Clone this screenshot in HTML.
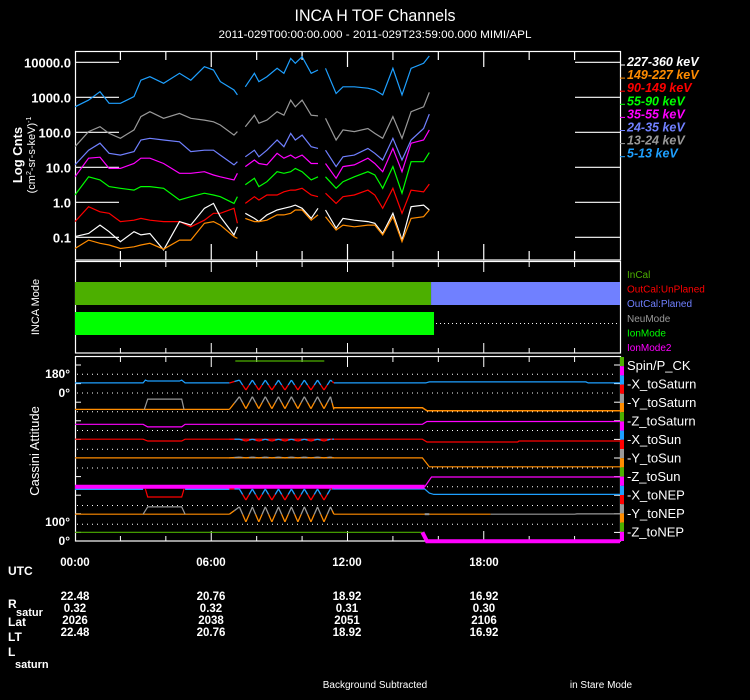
<!DOCTYPE html>
<html><head><meta charset="utf-8"><style>
html,body{margin:0;padding:0;background:#000;}
svg{display:block;font-family:"Liberation Sans",sans-serif;}
</style></head><body>
<svg id="chart" width="750" height="700" viewBox="0 0 750 700">
<rect x="0" y="0" width="750" height="700" fill="#000"/>
<text x="375" y="21" fill="#fff" font-size="17" text-anchor="middle" textLength="161" lengthAdjust="spacingAndGlyphs">INCA H TOF Channels</text>
<text x="375" y="38" fill="#fff" font-size="11" text-anchor="middle" textLength="313" lengthAdjust="spacingAndGlyphs">2011-029T00:00:00.000 - 2011-029T23:59:00.000 MIMI/APL</text>

<text transform="translate(22,155) rotate(-90)" fill="#fff" font-size="13" font-weight="bold" text-anchor="middle">Log Cnts</text>
<text transform="translate(35,155) rotate(-90)" fill="#fff" font-size="11" text-anchor="middle">(cm<tspan font-size="7" dy="-4">2</tspan><tspan dy="4">-sr-s-keV)</tspan><tspan font-size="7" dy="-4">-1</tspan></text>
<text transform="translate(39,307) rotate(-90)" fill="#fff" font-size="11" text-anchor="middle">INCA Mode</text>
<text transform="translate(39,451) rotate(-90)" fill="#fff" font-size="13" text-anchor="middle">Cassini Attitude</text>

<g id="topG"></g>
<g id="midG"></g>
<g id="botG"></g>

<g fill="#fff" font-size="12" font-weight="bold">
<text x="8" y="575">UTC</text>
<text x="8" y="608">R</text>
<text x="16" y="616" font-size="11">satur</text>
<text x="8" y="626">Lat</text>
<text x="8" y="641">LT</text>
<text x="8" y="656">L</text>
<text x="15" y="668" font-size="11">saturn</text>
</g>
<text x="375" y="688" fill="#fff" font-size="10" text-anchor="middle">Background Subtracted</text>
<text x="601" y="688" fill="#fff" font-size="10" text-anchor="middle">in Stare Mode</text>
</svg>
<script>
// ---- counts panel data (log10 counts) ----
const hours=[0,0.6,1.1,1.5,2,2.6,2.9,3.3,3.9,4.6,5.1,5.7,6.1,6.4,7.0,7.15,7.3,7.5,7.9,8.1,8.45,8.9,9.2,9.5,9.7,10.0,10.4,10.7,10.85,11.03,11.5,11.8,12.3,12.9,13.2,13.55,14.0,14.4,14.8,15.35,15.6];
const log227_360=[-0.98,-0.89,-0.65,-0.84,-1.125,-0.84,-0.93,-0.89,-1.36,-0.55,-0.65,-0.17,-0.03,-0.41,-0.93,-0.70,null,-0.315,-0.46,-0.55,-0.36,-0.22,-0.17,-0.125,-0.08,-0.17,-0.46,-0.17,null,-0.22,-0.74,-0.46,-0.51,-0.55,-0.60,-0.89,-0.315,-1.08,-0.125,-0.08,-0.22];
const log149_227=[-1.32,-1.08,-1.17,-1.22,-1.32,-1.27,-1.22,-1.17,-1.34,-1.08,-1.08,-0.60,-0.55,-0.65,-0.98,-1.03,null,-0.46,-0.55,-0.55,-0.51,-0.36,-0.36,-0.315,-0.22,-0.22,-0.51,-0.36,null,-0.41,-0.79,-0.65,-0.70,-0.65,-0.65,-0.93,-0.41,-1.125,-0.46,-0.41,-0.22];
const log90_149=[-0.55,-0.125,-0.27,-0.315,-0.55,-0.51,-0.46,-0.51,-0.55,-0.55,-0.70,-0.51,-0.315,-0.315,-0.17,-0.60,null,-0.03,0.16,0.065,0.21,0.21,0.30,0.35,0.35,0.40,0.21,0.16,null,0.26,-0.03,0.16,0.21,0.35,0.21,-0.17,0.40,-0.315,0.35,0.30,0.52];
const log55_90=[0.21,0.73,0.64,0.45,0.40,0.35,0.45,0.45,0.40,0.065,0.16,0.26,0.21,0.16,-0.03,0.16,null,0.50,0.685,0.45,0.59,0.875,0.83,0.875,0.97,0.875,0.64,0.73,null,0.73,0.40,0.59,0.73,0.875,0.78,0.40,1.02,0.26,1.16,1.16,1.42];
const log35_55=[0.73,1.26,1.29,0.97,0.97,1.11,1.26,1.26,1.11,0.83,0.83,0.875,0.78,0.73,0.64,0.83,null,1.02,1.21,1.11,1.07,1.40,1.26,1.35,1.26,1.35,1.11,1.11,null,1.11,0.685,1.02,1.07,1.26,1.11,0.875,1.54,0.875,1.69,1.78,2.07];
const log24_35=[1.07,1.49,1.69,1.40,1.35,1.45,1.78,1.83,1.78,1.73,1.45,1.49,1.49,1.35,1.07,1.16,null,1.30,1.49,1.30,1.49,1.78,1.59,1.97,1.78,1.92,1.59,1.54,null,1.49,1.02,1.30,1.35,1.54,1.40,1.21,1.83,1.21,1.78,2.11,2.52];
const log13_24=[1.59,2.02,2.16,1.97,1.83,2.07,2.45,2.59,2.40,2.54,2.40,2.35,2.30,2.21,1.92,2.02,null,2.16,2.49,2.26,2.35,2.59,2.49,2.92,2.73,2.92,2.49,2.47,null,2.40,1.78,2.07,2.02,2.11,1.97,1.83,2.45,1.83,2.59,2.73,3.14];
const log5_13=[2.73,2.92,3.16,2.83,2.83,3.02,3.49,3.59,3.40,3.685,3.49,3.875,3.78,3.45,3.21,3.07,null,3.30,3.685,3.45,3.59,3.83,3.685,4.11,3.97,4.16,3.685,3.78,null,3.83,3.11,3.30,3.30,3.26,3.21,3.07,3.83,3.07,3.83,3.97,4.18];
const channelNames=["227-360 keV","149-227 keV","90-149 keV","55-90 keV","35-55 keV","24-35 keV","13-24 keV","5-13 keV"];
const yTickLabels=["10000.0","1000.0","100.0","10.0","1.0","0.1"];
const yTickLogs=[4,3,2,1,0,-1];
const timeLabels=["00:00","06:00","12:00","18:00"];
const rSatur=["22.48","20.76","18.92","16.92"];
const latVals=["0.32","0.32","0.31","0.30"];
const ltVals=["2026","2038","2051","2106"];
const lSaturn=["22.48","20.76","18.92","16.92"];
// ---- mode panel data ----
const calStarts=[0,15.68];const calEnds=[15.68,24];const calNames=["InCal","OutCal:Planed"];
const ionStart=0,ionEnd=15.81;
const modeNames=["InCal","OutCal:UnPlaned","OutCal:Planed","NeuMode","IonMode","IonMode2"];
// ---- attitude data (hours, degrees) ----
const attNames=["Spin/P_CK","-X_toSaturn","-Y_toSaturn","-Z_toSaturn","-X_toSun","-Y_toSun","-Z_toSun","-X_toNEP","-Y_toNEP","-Z_toNEP"];
const wigglePeaks=[7.24,7.81,8.38,8.96,9.53,10.1,10.68,11.25];

const NS="http://www.w3.org/2000/svg";
const X0=75,X1=620;
function xT(t){return X0+t*(X1-X0)/24;}
function yL(l){return 202.3-35*l;}
function mk(tag,attrs,parent){const e=document.createElementNS(NS,tag);for(const k in attrs)e.setAttribute(k,attrs[k]);parent.appendChild(e);return e;}
const topG=document.getElementById('topG'),midG=document.getElementById('midG'),botG=document.getElementById('botG'),svgEl=document.getElementById('chart');

// ---- top panel ----
let fr=mk('rect',{x:75.5,y:51.5,width:545,height:208.5,fill:'none',stroke:'#fff','stroke-width':1.2},topG);


for(let h=2;h<24;h+=2){
  const L=(h%6==0)?16:9;
  let a=mk('line',{x1:xT(h),x2:xT(h),y1:51,y2:51+L,stroke:'#fff','stroke-width':1.2},topG);
  
  
  let b=mk('line',{x1:xT(h),x2:xT(h),y1:260,y2:260-L,stroke:'#fff','stroke-width':1.2},topG);
  
  
}
yTickLogs.forEach((l,i)=>{
  const y=yL(l);
  let a=mk('line',{x1:75,x2:119,y1:y,y2:y,stroke:'#fff','stroke-width':1.2},topG);
  
  
  let b=mk('line',{x1:575,x2:620,y1:y,y2:y,stroke:'#fff','stroke-width':1.2},topG);
  
  
  let t=mk('text',{x:71,y:y+5,fill:'#fff','font-size':13,'font-weight':'bold','text-anchor':'end'},topG);
  t.textContent=yTickLabels[i];
  
  
});
const series=[log227_360,log149_227,log90_149,log55_90,log35_55,log24_35,log13_24,log5_13];
const colors=['#ffffff','#ff8c00','#ff0000','#00ff00','#ff00ff','#7080ff','#999999','#1ea0ff'];
const drawOrder=[7,6,5,4,3,2,0,1];
drawOrder.forEach(si=>{
  const vals=series[si];let d='',pen=false;
  vals.forEach((v,i)=>{if(v===null){pen=false;return;}d+=(pen?'L':'M')+xT(hours[i]).toFixed(1)+' '+yL(v).toFixed(1)+' ';pen=true;});
  let p=mk('path',{d:d,fill:'none',stroke:colors[si],'stroke-width':1.2},topG);
  
  
});
channelNames.forEach((n,i)=>{
  const y=61+i*13.1;
  let m=mk('line',{x1:620,x2:625,y1:y+4,y2:y+4,stroke:colors[i],'stroke-width':1},topG);
  
  
  let t=mk('text',{x:627,y:y+5,fill:colors[i],'font-size':12.5,'font-weight':'bold','font-style':'italic'},topG);
  t.textContent=n;
  
  
});

// ---- mid panel ----
fr=mk('rect',{x:75.5,y:261.5,width:545,height:91.5,fill:'none',stroke:'#fff','stroke-width':1.2},midG);


for(let h=2;h<24;h+=2){
  const L=(h%6==0)?10:5;
  let a=mk('line',{x1:xT(h),x2:xT(h),y1:262,y2:262+L,stroke:'#fff','stroke-width':1},midG);
  
  
  let b=mk('line',{x1:xT(h),x2:xT(h),y1:353,y2:353-L,stroke:'#fff','stroke-width':1},midG);
  
  
}
const calColors=['#4caf00','#7080ff'];
calStarts.forEach((s,i)=>{
  let r=mk('rect',{x:xT(s),y:282,width:xT(calEnds[i])-xT(s),height:23,fill:calColors[i]},midG);
  
  
});
let ion=mk('rect',{x:xT(ionStart),y:312,width:xT(ionEnd)-xT(ionStart),height:23,fill:'#00ff00'},midG);


let dl=mk('line',{x1:xT(ionEnd)+2,x2:617,y1:323.5,y2:323.5,stroke:'#fff','stroke-width':1,'stroke-dasharray':'1 3'},midG);


const modeColors=['#4caf00','#ff0000','#7080ff','#999999','#00ff00','#ff00ff'];
modeNames.forEach((n,i)=>{
  let t=mk('text',{x:627,y:278+i*14.6,fill:modeColors[i],'font-size':10},midG);
  t.textContent=n;
  
  
});

// ---- bottom panel ----
fr=mk('rect',{x:75.5,y:356.5,width:545,height:184.5,fill:'none',stroke:'#fff','stroke-width':1.2},botG);


for(let h=2;h<24;h+=2){
  const L=(h%6==0)?10:5;
  let a=mk('line',{x1:xT(h),x2:xT(h),y1:357,y2:357+L,stroke:'#fff','stroke-width':1},botG);
  
  
  let b=mk('line',{x1:xT(h),x2:xT(h),y1:541,y2:541-L,stroke:'#fff','stroke-width':1},botG);
  
  
}
for(let k=0;k<10;k++){
  const y=365+k*18.6;
  let a=mk('line',{x1:75,x2:81,y1:y,y2:y,stroke:'#fff','stroke-width':1},botG);
  
  
  let b=mk('line',{x1:614,x2:620,y1:y,y2:y,stroke:'#fff','stroke-width':1},botG);
  
  
}
function D(row){return 374.3+18.75*row;}
function yA(row,deg){return D(row)+(180-deg)/180*18.75;}
for(let j=0;j<9;j++){
  let l=mk('line',{x1:77,x2:617,y1:D(j),y2:D(j),stroke:'#fff','stroke-width':1,'stroke-dasharray':'1 4'},botG);
  
  
}
[["180°",374],["0°",393],["100°",522],["0°",541]].forEach(a=>{
  let t=mk('text',{x:70,y:a[1]+4,fill:'#fff','font-size':12,'font-weight':'bold','text-anchor':'end'},botG);
  t.textContent=a[0];
  
  
});
// traces: [color,row,times,degs,width]
const attTraces=[
 ['#4caf00',-1,[7.06,10.98],[128,128],1.2],
 ['#1ea0ff',0,[0,3.0,3.1,3.2,4.6,4.7,4.85,6.8],[97,97,124,116,116,124,97,97],1.2],
 ['#1ea0ff',0,[11.4,15.45,15.6,22.5,22.6,24],[97,97,107,107,97,97],1.2],
 ['#ff8c00',1,[0,3.0,3.2,4.7,4.85,6.8],[23,23,23,23,23,23],1.2],
 ['#999999',1,[3.05,3.2,4.7,4.8],[23,122,122,23],1.2],
 ['#ff8c00',1,[11.4,15.3,15.5,24],[39,39,10,10],1.5],
 ['#ff00ff',2,[0,3.0,3.2,4.7,4.85,15.3,15.5,24],[60,60,35,35,60,60,87,87],1.2],
 ['#ff0000',3,[0,3.0,3.2,4.7,4.85,15.3,15.5,19.5,19.55,24],[97,97,80,80,97,97,70,70,80,80],1.2],
 ['#ff8c00',4,[0,15.3,15.6,24],[97,97,12,12],1.2],
 ['#1ea0ff',6,[0,3.0],[159,159],2],
 ['#1ea0ff',6,[4.85,6.8],[159,159],2],
 ['#1ea0ff',6,[11.4,15.4,15.6,15.8,24],[159,159,120,107,107],1.2],
 ['#ff0000',6,[3.1,3.2,4.7,4.8],[159,82,82,159],1.2],
 ['#ff00ff',5,[0,15.4],[0,0],4],
 ['#ff00ff',5,[15.4,15.7,24],[0,94,94],1.2],
 ['#ff8c00',7,[0,3.0,3.2,4.7,4.85,6.8],[97,97,97,97,97,97],1.2],
 ['#999999',7,[3.0,3.2,4.7,4.85],[97,167,167,97],1.2],
 ['#ff8c00',7,[11.4,15.4,15.6,18.3],[97,97,97,97],1.2],
 ['#999999',7,[15.4,15.6],[97,97],2],
 ['#999999',7,[18.3,22,22.1,24],[97,97,100,100],1.2],
 ['#4caf00',8,[0,15.3],[103,103],1.2],
 ['#ff00ff',8,[15.3,15.5,24],[103,17,17],4]
];
attTraces.forEach(tr=>{
  let d='';tr[2].forEach((t,i)=>{d+=(i?'L':'M')+xT(t).toFixed(1)+' '+yA(tr[1],tr[3][i]).toFixed(1)+' ';});
  let p=mk('path',{d:d,fill:'none',stroke:tr[0],'stroke-width':tr[4]},botG);
  
  
});
// wiggles: [row, hiDeg, loDeg, hiColor, loColor, baseDeg]
const wiggles=[[0,124,29,'#1ea0ff','#ff0000',97],[1,145,30,'#999999','#ff8c00',23],[3,97,80,'#1ea0ff','#ff0000',97],[4,105,97,'#999999','#ff8c00',97],[6,159,53,'#1ea0ff','#ff0000',159],[7,167,23,'#999999','#ff8c00',97]];
wiggles.forEach(w=>{
  const pts=[[6.8,w[5]]];
  wigglePeaks.forEach((pk,i)=>{pts.push([pk,w[1]]);if(i<wigglePeaks.length-1)pts.push([(pk+wigglePeaks[i+1])/2,w[2]]);});
  pts.push([11.4,w[5]]);
  for(let i=0;i<pts.length-1;i++){
    const a=pts[i],b=pts[i+1];
    const ya=yA(w[0],a[1]),yb=yA(w[0],b[1]);
    const mx=(xT(a[0])+xT(b[0]))/2,my=(ya+yb)/2;
    const aHi=a[1]>b[1];
    let p1=mk('line',{x1:xT(a[0]),y1:ya,x2:mx,y2:my,stroke:aHi?w[3]:w[4],'stroke-width':1.3},botG);
    
    
    let p2=mk('line',{x1:mx,y1:my,x2:xT(b[0]),y2:yb,stroke:aHi?w[4]:w[3],'stroke-width':1.3},botG);
    
    
  }
});
const barColors=['#4caf00','#ff00ff','#1ea0ff','#ff0000','#999999','#ff8c00'];
for(let k=0;k<20;k++){
  const y0=357+k*9.2;const h=Math.min(9.2,541-y0);if(h<=0)break;
  let r=mk('rect',{x:620,y:y0,width:4,height:h,fill:barColors[k%6]},botG);
  
  
}
attNames.forEach((n,i)=>{
  let t=mk('text',{x:627,y:370+i*18.5,fill:'#fff','font-size':13},botG);
  t.textContent=n;
  
  
});

// ---- ephemeris table ----
const colX=[75,211,347,484];
const tableRows=[[timeLabels,566],[rSatur,600],[latVals,612],[ltVals,624],[lSaturn,636]];
tableRows.forEach(r=>{r[0].forEach((v,i)=>{
  let t=mk('text',{x:colX[i],y:r[1],fill:'#fff','font-size':11.5,'font-weight':'bold','text-anchor':'middle'},svgEl);
  t.textContent=v;
  
  
});});
</script>
</body></html>
